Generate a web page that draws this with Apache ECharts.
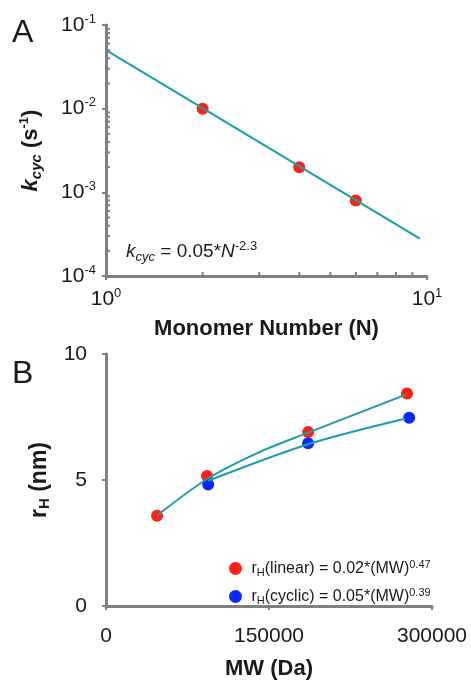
<!DOCTYPE html>
<html>
<head>
<meta charset="utf-8">
<script src="https://cdn.jsdelivr.net/npm/echarts@6/dist/echarts.min.js"></script>
<style>
html,body{margin:0;padding:0;background:#fff;}
#chart{width:471px;height:681px;}
</style>
</head>
<body>
<div id="chart"></div>
<script>
// ---------- Panel A data ----------
const monomerN = [2, 4, 6];
const kcycValues = [0.01, 0.002, 0.0008];
const fitAN = [1, 9.5];
const fitAK = [0.05, 0.00028];
const xMinorTicksA = [2, 3, 4, 5, 6, 7, 8, 9];
const yMinorTicksA = [2e-4, 3e-4, 4e-4, 5e-4, 6e-4, 7e-4, 8e-4, 9e-4,
                      2e-3, 3e-3, 4e-3, 5e-3, 6e-3, 7e-3, 8e-3, 9e-3,
                      2e-2, 3e-2, 4e-2, 5e-2, 6e-2, 7e-2, 8e-2, 9e-2];
const xRangeA = [1, 10];
const yRangeA = [1e-4, 1e-1];

// ---------- Panel B data ----------
const mwLinear = [47000, 93000, 186000, 277000];
const rhLinear = [3.58, 5.16, 6.90, 8.43];
const mwCyclic = [94000, 186000, 279000];
const rhCyclic = [4.82, 6.46, 7.47];
const fitLinMW = [47000, 93000, 138700, 186000, 276000];
const fitLinRH = [3.59, 5.04, 6.06, 6.88, 8.39];
const fitCycMW = [94000, 186000, 275000];
const fitCycRH = [4.97, 6.42, 7.43];
const xRangeB = [0, 300000];
const yRangeB = [0, 10];
const legendNames = ['linear', 'cyclic'];
const legendLabels = {
  linear: '{r|r}{sub|H}{r|(linear) = 0.02*(MW)}{sup|0.47}',
  cyclic: '{r|r}{sub|H}{r|(cyclic) = 0.05*(MW)}{sup|0.39}'
};

const FONT = 'Liberation Sans, Arial, sans-serif';
const AXIS_COLOR = '#808080';
const TEXT_COLOR = '#1a1a1a';
const RED = '#ff2010';
const BLUE = '#0a28ff';
const TEAL = '#1a9cae';

const supRich = {
  b: {fontSize: 21, fontFamily: FONT, color: TEXT_COLOR, lineHeight: 25},
  s: {fontSize: 13, fontFamily: FONT, color: TEXT_COLOR, verticalAlign: 'top', lineHeight: 14}
};
function powLabel(v) {
  const e = Math.round(Math.log10(v));
  return '{b|10}{s|' + e + '}';
}

function axisLine() {
  return {show: true, lineStyle: {color: AXIS_COLOR, width: 3}};
}

const chart = echarts.init(document.getElementById('chart'), null, {renderer: 'canvas'});

const option = {
  backgroundColor: '#fff',
  animation: false,
  grid: [
    {left: 106, top: 25, width: 321, height: 251},
    {left: 106, top: 354, width: 326, height: 254}
  ],
  xAxis: [
    {
      gridIndex: 0, type: 'log', logBase: 10, min: xRangeA[0], max: xRangeA[1],
      axisLine: axisLine(),
      axisTick: {show: true, inside: false, length: 4, lineStyle: {color: AXIS_COLOR, width: 2}},
      splitLine: {show: false},
      axisLabel: {formatter: powLabel, rich: supRich, margin: 11},
      name: 'Monomer Number (N)', nameLocation: 'middle', nameGap: 42,
      nameTextStyle: {fontSize: 22, fontWeight: 'bold', fontFamily: FONT, color: TEXT_COLOR}
    },
    {
      gridIndex: 1, type: 'value', min: xRangeB[0], max: xRangeB[1], interval: 150000,
      axisLine: axisLine(),
      axisTick: {show: true, inside: false, length: 4, lineStyle: {color: AXIS_COLOR, width: 2}},
      splitLine: {show: false},
      axisLabel: {formatter: v => String(v), fontSize: 21, fontFamily: FONT, color: TEXT_COLOR, margin: 20},
      name: 'MW (Da)', nameLocation: 'middle', nameGap: 52,
      nameTextStyle: {fontSize: 22, fontWeight: 'bold', fontFamily: FONT, color: TEXT_COLOR}
    }
  ],
  yAxis: [
    {
      gridIndex: 0, type: 'log', logBase: 10, min: yRangeA[0], max: yRangeA[1],
      axisLine: axisLine(),
      axisTick: {show: true, inside: false, length: 4, lineStyle: {color: AXIS_COLOR, width: 2}},
      splitLine: {show: false},
      axisLabel: {formatter: powLabel, rich: supRich, margin: 10},
      name: '{k|k}{sub|cyc}{t| (s}{sup|-1}{t|)}', nameLocation: 'middle', nameGap: 62, nameRotate: 90,
      nameTextStyle: {
        rich: {
          k: {fontSize: 22, fontWeight: 'bold', fontStyle: 'italic', fontFamily: FONT, color: TEXT_COLOR, lineHeight: 26},
          sub: {fontSize: 15, fontWeight: 'bold', fontStyle: 'italic', fontFamily: FONT, color: TEXT_COLOR, verticalAlign: 'bottom', lineHeight: 16},
          t: {fontSize: 22, fontWeight: 'bold', fontFamily: FONT, color: TEXT_COLOR, lineHeight: 26},
          sup: {fontSize: 13, fontWeight: 'bold', fontFamily: FONT, color: TEXT_COLOR, verticalAlign: 'top', lineHeight: 14}
        }
      }
    },
    {
      gridIndex: 1, type: 'value', min: yRangeB[0], max: yRangeB[1], interval: 5,
      axisLine: axisLine(),
      axisTick: {show: true, inside: false, length: 4, lineStyle: {color: AXIS_COLOR, width: 2}},
      splitLine: {show: false},
      axisLabel: {fontSize: 21, fontFamily: FONT, color: TEXT_COLOR, margin: 19},
      name: '{r|r}{sub|H}{t| (nm)}', nameLocation: 'middle', nameGap: 44, nameRotate: 90,
      nameTextStyle: {
        rich: {
          r: {fontSize: 23, fontWeight: 'bold', fontFamily: FONT, color: TEXT_COLOR, lineHeight: 27},
          sub: {fontSize: 15, fontWeight: 'bold', fontFamily: FONT, color: TEXT_COLOR, verticalAlign: 'bottom', lineHeight: 16},
          t: {fontSize: 23, fontWeight: 'bold', fontFamily: FONT, color: TEXT_COLOR, lineHeight: 27}
        }
      }
    }
  ],
  legend: {
    data: legendNames, orient: 'vertical', left: 224, top: 554,
    itemWidth: 22, itemHeight: 13, itemGap: 9, icon: 'circle', selectedMode: false,
    formatter: name => legendLabels[name],
    textStyle: {
      rich: {
        r: {fontSize: 16, fontFamily: FONT, color: TEXT_COLOR, lineHeight: 19},
        sub: {fontSize: 11, fontFamily: FONT, color: TEXT_COLOR, verticalAlign: 'bottom', lineHeight: 12},
        sup: {fontSize: 11, fontFamily: FONT, color: TEXT_COLOR, verticalAlign: 'top', lineHeight: 12}
      }
    }
  },
  graphic: [
    {type: 'text', left: 12, top: 17, style: {text: 'A', fontSize: 32, fontFamily: FONT, fill: TEXT_COLOR}},
    {type: 'text', left: 12, top: 358, style: {text: 'B', fontSize: 32, fontFamily: FONT, fill: TEXT_COLOR}},
    {
      type: 'text', left: 126, top: 240,
      style: {
        text: '{ki|k}{sub|cyc}{t| = 0.05*}{ki|N}{sup|-2.3}',
        rich: {
          ki: {fontSize: 19, fontStyle: 'italic', fontFamily: FONT, fill: TEXT_COLOR, lineHeight: 24},
          sub: {fontSize: 13, fontStyle: 'italic', fontFamily: FONT, fill: TEXT_COLOR, verticalAlign: 'bottom', lineHeight: 14},
          t: {fontSize: 19, fontFamily: FONT, fill: TEXT_COLOR, lineHeight: 24},
          sup: {fontSize: 13, fontFamily: FONT, fill: TEXT_COLOR, verticalAlign: 'top', lineHeight: 14}
        }
      }
    }
  ],
  series: [
    {
      name: 'kcyc', type: 'scatter', xAxisIndex: 0, yAxisIndex: 0,
      data: monomerN.map((n, i) => [n, kcycValues[i]]),
      symbolSize: 12, itemStyle: {color: RED, opacity: 1}, z: 2
    },
    {
      name: 'fitA', type: 'line', xAxisIndex: 0, yAxisIndex: 0,
      data: fitAN.map((n, i) => [n, fitAK[i]]),
      showSymbol: false, lineStyle: {color: TEAL, width: 2}, z: 3
    },
    {
      name: 'minorXA', type: 'custom', xAxisIndex: 0, yAxisIndex: 0,
      data: xMinorTicksA.map(v => [v, yRangeA[0]]), clip: false, silent: true, z: 5,
      renderItem: function (params, api) {
        const p = api.coord([api.value(0), api.value(1)]);
        return {type: 'line', shape: {x1: p[0], y1: p[1], x2: p[0], y2: p[1] - 4},
                style: {stroke: AXIS_COLOR, lineWidth: 2}};
      }
    },
    {
      name: 'minorYA', type: 'custom', xAxisIndex: 0, yAxisIndex: 0,
      data: yMinorTicksA.map(v => [xRangeA[0], v]), clip: false, silent: true, z: 5,
      renderItem: function (params, api) {
        const p = api.coord([api.value(0), api.value(1)]);
        return {type: 'line', shape: {x1: p[0], y1: p[1], x2: p[0] + 4, y2: p[1]},
                style: {stroke: AXIS_COLOR, lineWidth: 2}};
      }
    },
    {
      name: 'linear', type: 'scatter', xAxisIndex: 1, yAxisIndex: 1,
      data: mwLinear.map((m, i) => [m, rhLinear[i]]),
      symbolSize: 12, itemStyle: {color: RED, opacity: 1}, z: 2
    },
    {
      name: 'cyclic', type: 'scatter', xAxisIndex: 1, yAxisIndex: 1,
      data: mwCyclic.map((m, i) => [m, rhCyclic[i]]),
      symbolSize: 12, itemStyle: {color: BLUE, opacity: 1}, z: 2
    },
    {
      name: 'fitLinear', type: 'line', xAxisIndex: 1, yAxisIndex: 1,
      data: fitLinMW.map((m, i) => [m, fitLinRH[i]]),
      smooth: 0.3, showSymbol: false, lineStyle: {color: TEAL, width: 2}, z: 3
    },
    {
      name: 'fitCyclic', type: 'line', xAxisIndex: 1, yAxisIndex: 1,
      data: fitCycMW.map((m, i) => [m, fitCycRH[i]]),
      smooth: 0.3, showSymbol: false, lineStyle: {color: TEAL, width: 2}, z: 3
    }
  ]
};
chart.setOption(option);
</script>
</body>
</html>
